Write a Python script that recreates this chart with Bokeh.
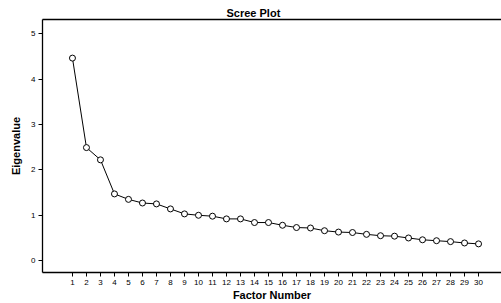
from bokeh.plotting import figure
from bokeh.models import LinearAxis, FixedTicker, Range1d
from bokeh.embed import file_html
from bokeh.resources import INLINE

factors = list(range(1, 31))
eigenvalues = [4.46, 2.49, 2.22, 1.47, 1.35, 1.27, 1.25, 1.14, 1.03, 1.00,
               0.98, 0.92, 0.92, 0.84, 0.84, 0.78, 0.73, 0.72, 0.66, 0.63,
               0.62, 0.58, 0.55, 0.54, 0.50, 0.46, 0.44, 0.42, 0.39, 0.37]
y_ticks = [0, 1, 2, 3, 4, 5]

p = figure(width=501, height=303, output_backend="svg", toolbar_location=None,
           x_range=Range1d(-1.14, 31.64), y_range=Range1d(-0.26, 5.31),
           title="Scree Plot", x_axis_location=None, y_axis_location=None)
p.min_border_left = 42
p.min_border_right = 0
p.min_border_top = 19
p.min_border_bottom = 30
p.outline_line_color = None
p.xgrid.visible = False
p.ygrid.visible = False
p.background_fill_color = "white"
p.border_fill_color = "white"

p.title.align = "left"
p.title.offset = 184
p.title.text_font = "Liberation Sans"
p.title.text_font_size = "11px"
p.title.text_font_style = "bold"
p.title.text_color = "black"
p.title.standoff = 2

def style_axis(ax):
    ax.axis_line_color = "black"
    ax.axis_line_width = 1.3
    ax.major_tick_line_color = "black"
    ax.major_tick_out = 4
    ax.major_tick_in = 0
    ax.minor_tick_line_color = None
    ax.major_label_text_font = "Liberation Sans"
    ax.major_label_text_font_size = "8px"
    ax.major_label_text_color = "black"
    ax.axis_label_text_font = "Liberation Sans"
    ax.axis_label_text_font_size = "11px"
    ax.axis_label_text_font_style = "bold"
    ax.axis_label_text_color = "black"

xa = LinearAxis(ticker=FixedTicker(ticks=factors), axis_label="Factor Number")
style_axis(xa)
xa.major_label_standoff = 3
xa.axis_label_standoff = 1
p.add_layout(xa, "below")

ya = LinearAxis(ticker=FixedTicker(ticks=y_ticks), axis_label="Eigenvalue")
style_axis(ya)
ya.major_label_standoff = 3
ya.axis_label_standoff = 6
p.add_layout(ya, "left")

top = LinearAxis(ticker=FixedTicker(ticks=[]), major_label_text_font_size="0px")
top.axis_line_color = "black"
top.axis_line_width = 1.3
top.major_tick_line_color = None
top.minor_tick_line_color = None
p.add_layout(top, "above")

p.line(factors, eigenvalues, line_color="black", line_width=1)
p.scatter(factors, eigenvalues, marker="circle", size=6, fill_color="white",
          line_color="black", line_width=1)

open("out.html", "w").write(file_html(p, INLINE))
